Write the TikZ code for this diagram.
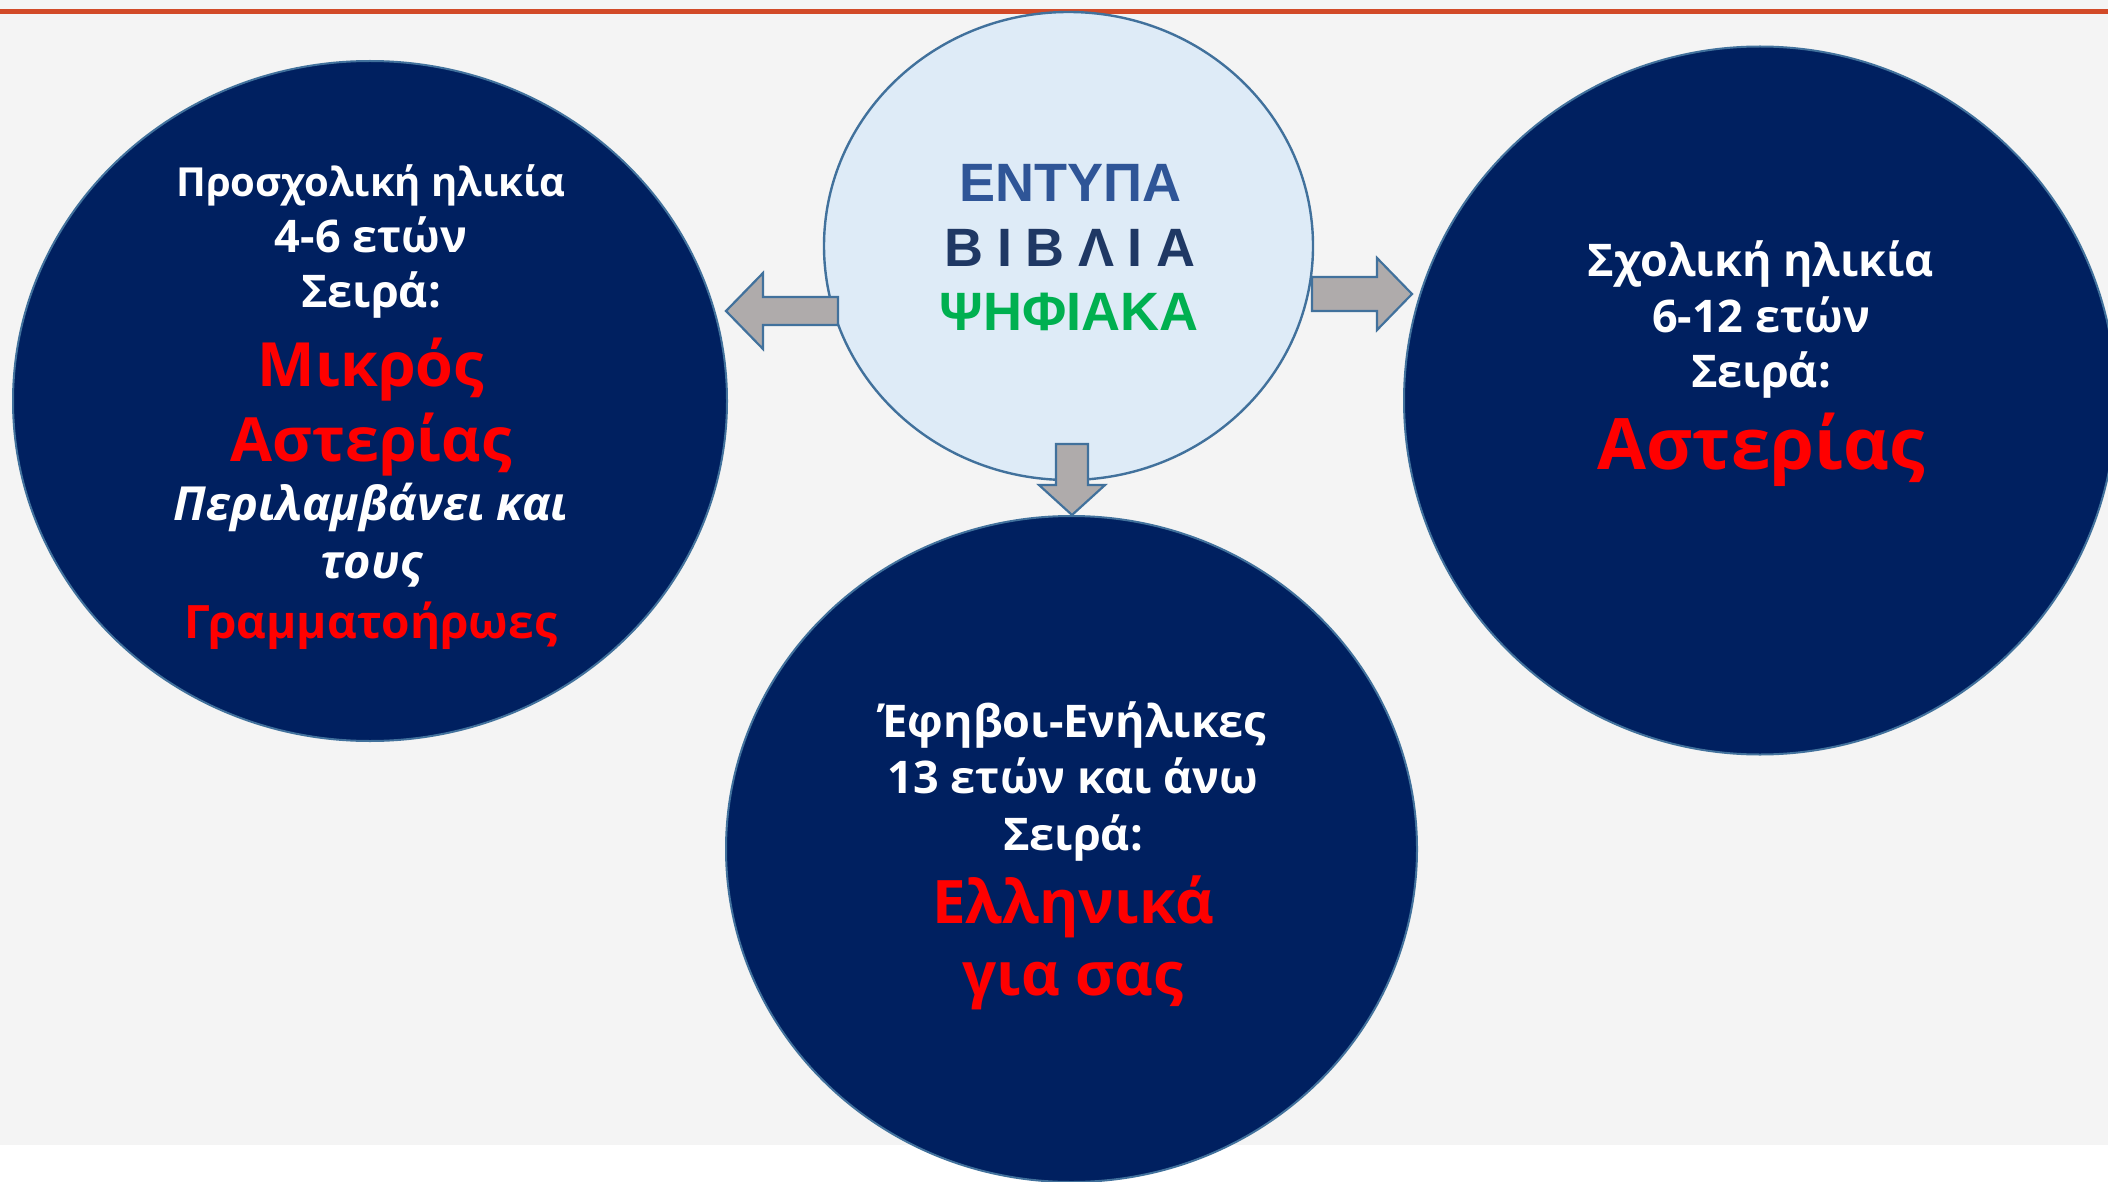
\documentclass[tikz,border=0pt]{standalone}
\usepackage{fontspec}
\setmainfont{Open Sans}
\newfontfamily\hdfont{Liberation Sans}
\usetikzlibrary{shapes.geometric}
\definecolor{navy}{HTML}{002060}
\definecolor{edgeblue}{HTML}{41719C}
\definecolor{paleblue}{HTML}{DEEBF7}
\definecolor{arrowgray}{HTML}{AFABAB}
\definecolor{bgray}{HTML}{F4F4F4}
\definecolor{topline}{HTML}{D24A28}
\definecolor{hdblue}{HTML}{2F5597}
\definecolor{hddark}{HTML}{1F3864}
\definecolor{hdgreen}{HTML}{00B050}
\definecolor{redtxt}{HTML}{FF0000}
\begin{document}
\begin{tikzpicture}[x=0.5pt,y=-0.5pt,
  bigcirc/.style={ellipse, draw=edgeblue, line width=1pt, fill=navy, inner sep=0pt},
  midcirc/.style={ellipse, draw=edgeblue, line width=1.2pt, fill=paleblue, inner sep=0pt},
  blockarrow/.style={draw=edgeblue, line width=1.1pt, fill=arrowgray, line join=miter},
  wtxt/.style={anchor=base, text=white, inner sep=0pt, font=\bfseries\fontsize{22.5}{26}\selectfont},
  wtxtn/.style={anchor=base, text=white, inner sep=0pt, font=\bfseries\fontsize{20}{24}\selectfont},
  witxt/.style={anchor=base, text=white, inner sep=0pt, font=\bfseries\itshape\fontsize{23.5}{27}\selectfont},
  rtxtL/.style={anchor=base, text=redtxt, inner sep=0pt, font=\bfseries\fontsize{30.5}{34}\selectfont},
  rtxtR/.style={anchor=base, text=redtxt, inner sep=0pt, font=\bfseries\fontsize{35.5}{40}\selectfont},
  rtxtB/.style={anchor=base, text=redtxt, inner sep=0pt, font=\bfseries\fontsize{30}{34}\selectfont},
  rtxtS/.style={anchor=base, text=redtxt, inner sep=0pt, font=\bfseries\fontsize{23}{27}\selectfont},
  hdtxt/.style={anchor=base, inner sep=0pt, font=\hdfont\bfseries\fontsize{27}{31}\selectfont}]
\useasboundingbox (0,0) rectangle (2108,1182);
% background
\fill[white] (0,0) rectangle (2108,1182);
\fill[bgray] (0,0) rectangle (2108,1145);
\fill[topline] (0,9) rectangle (2108,14.5);
% circles
\node[bigcirc, minimum width=357pt, minimum height=340pt] (lc) at (370,401) {};
\node[bigcirc, minimum width=356pt, minimum height=354pt] (rc) at (1760,400.5) {};
\node[bigcirc, minimum width=345.5pt, minimum height=333pt] (bc) at (1071.5,849) {};
\node[midcirc, minimum width=244.5pt, minimum height=234pt] (cc) at (1068.5,246) {};
% block arrows
\draw[blockarrow] (838,297) -- (763,297) -- (763,273) -- (726,311) -- (763,349) -- (763,325) -- (838,325) -- cycle;
\draw[blockarrow] (1312,277) -- (1377,277) -- (1377,258) -- (1412,294) -- (1377,330) -- (1377,311) -- (1312,311) -- cycle;
\draw[blockarrow] (1056,444) -- (1088,444) -- (1088,485) -- (1105,485) -- (1072,515) -- (1039,485) -- (1056,485) -- cycle;
% centre text
\node[hdtxt, text=hdblue] (c1) at (1070,202) {ΕΝΤΥΠΑ};
\node[hdtxt, text=hddark] (c2) at (1070,266) {Β\hspace{6.8pt}Ι\hspace{6.8pt}Β\hspace{6.8pt}Λ\hspace{6.8pt}Ι\hspace{6.8pt}Α};
\node[hdtxt, text=hdgreen] (c3) at (1069,330) {ΨΗΦΙΑΚΑ};
% left circle text
\node[wtxtn] (l1) at (371,197) {Προσχολική ηλικία};
\node[wtxt] (l2) at (371,253) {4-6 ετών};
\node[wtxt] (l3) at (371,307) {Σειρά:};
\node[rtxtL] (l4) at (371,386) {Μικρός};
\node[rtxtL] (l5) at (371,461) {Αστερίας};
\node[witxt] (l6) at (371,520) {Περιλαμβάνει και};
\node[witxt] (l7) at (371,578) {τους};
\node[rtxtS] (l8) at (371,638) {Γραμματοήρωες};
% right circle text
\node[wtxt] (r1) at (1761,277) {Σχολική ηλικία};
\node[wtxt] (r2) at (1761,332) {6-12 ετών};
\node[wtxt] (r3) at (1761,387) {Σειρά:};
\node[rtxtR] (r4) at (1761,469) {Αστερίας};
% bottom circle text
\node[wtxt] (b1) at (1073,737) {Έφηβοι-Ενήλικες};
\node[wtxt] (b2) at (1073,793) {13 ετών και άνω};
\node[wtxt] (b3) at (1073,850) {Σειρά:};
\node[rtxtB] (b4) at (1073,923) {Ελληνικά};
\node[rtxtB] (b5) at (1073,995) {για σας};
\end{tikzpicture}
\end{document}
